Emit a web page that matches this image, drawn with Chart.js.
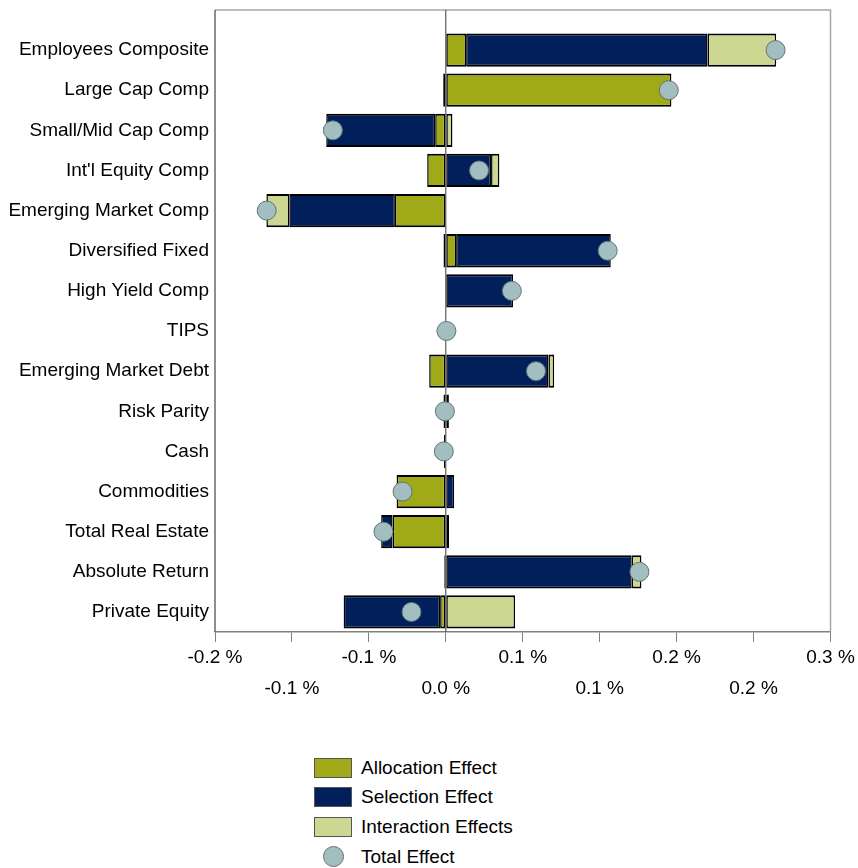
<!DOCTYPE html>
<html>
<head>
<meta charset="utf-8">
<script src="https://cdn.jsdelivr.net/npm/chart.js@4.4.1/dist/chart.umd.min.js"></script>
<style>
  body { margin: 0; background: #fff; font-family: "Liberation Sans", Arial, sans-serif; }
  #wrap { position: relative; width: 858px; height: 868px; }
  #box { position: absolute; left: 0; top: 0; width: 858px; height: 720px; }
  #legend { position: absolute; left: 314px; top: 753px; }
  .item { display: flex; align-items: center; height: 29.6px; font-size: 19px; color: #000; }
  .swatch { width: 36px; height: 18px; border: 1px solid #555; margin-right: 9px; }
  .dotwrap { width: 38px; display: flex; justify-content: center; margin-right: 9px; }
  .dot { width: 19px; height: 19px; border-radius: 50%; border: 1px solid #5f7375; }
</style>
</head>
<body>
<div id="wrap">
  <div id="box"><canvas id="attribChart"></canvas></div>
  <div id="legend"></div>
</div>
<script>
// asset classes, top to bottom
const categorias = ['Employees Composite', 'Large Cap Comp', 'Small/Mid Cap Comp', "Int'l Equity Comp",
  'Emerging Market Comp', 'Diversified Fixed', 'High Yield Comp', 'TIPS', 'Emerging Market Debt',
  'Risk Parity', 'Cash', 'Commodities', 'Total Real Estate', 'Absolute Return', 'Private Equity'];

// effects in %
const allocation = [0.0132, 0.1466, -0.0069, -0.0121, -0.0331, 0.0067, 0.0, 0.0, -0.0108, -0.0015, -0.0012, -0.0320, -0.0346, -0.0010, -0.0037];
const selection = [0.1569, -0.0017, -0.0708, 0.0294, -0.0686, 0.1005, 0.0437, 0.0, 0.0667, 0.0020, 0.0003, 0.0054, -0.0074, 0.1208, -0.0627];
const interaction = [0.0446, 0.0, 0.0043, 0.0054, -0.0149, -0.0015, 0.0, 0.0, 0.0037, 0.0, 0.0, 0.0, 0.0021, 0.0063, 0.0450];
const totalEffect = [0.2143, 0.1449, -0.0734, 0.0216, -0.1164, 0.1052, 0.0429, 0.0004, 0.0586, -0.0006, -0.0013, -0.0281, -0.0405, 0.1258, -0.0223];

// x axis ticks (labels as printed on the original, rounded to one decimal)
const tickValues = [-0.15, -0.10, -0.05, 0.0, 0.05, 0.10, 0.15, 0.20, 0.25];
const tickLabels = ['-0.2 %', '-0.1 %', '-0.1 %', '0.0 %', '0.1 %', '0.1 %', '0.2 %', '0.2 %', '0.3 %'];

const cores = {
  allocation: '#a0aa19',
  selection: '#001f5b',
  interaction: '#ccd792',
  total: '#a3bec1'
};

// frame around plot + zero line (frame reaches above the first row)
const framePlugin = {
  id: 'frame',
  beforeDatasetsDraw(chart) {
    const { ctx, chartArea, scales } = chart;
    const top = chartArea.top - 20;
    ctx.save();
    ctx.lineWidth = 1.5;
    ctx.strokeStyle = '#a6a6a6';
    ctx.beginPath();
    ctx.moveTo(chartArea.left, top);
    ctx.lineTo(chartArea.right, top);
    ctx.lineTo(chartArea.right, chartArea.bottom);
    ctx.stroke();
    ctx.strokeStyle = '#6a6a6a';
    ctx.beginPath();
    ctx.moveTo(chartArea.left, top);
    ctx.lineTo(chartArea.left, chartArea.bottom);
    ctx.stroke();
    const x0 = scales.x.getPixelForValue(0);
    ctx.lineWidth = 1;
    ctx.strokeStyle = '#3a3a3a';
    ctx.beginPath();
    ctx.moveTo(x0, top);
    ctx.lineTo(x0, chartArea.bottom);
    ctx.stroke();
    ctx.restore();
  }
};

const barBorder = { top: 2, bottom: 2, left: 1.5, right: 1.5 };

const ctx = document.getElementById('attribChart').getContext('2d');
const attribChart = new Chart(ctx, {
  type: 'bar',
  data: {
    labels: categorias,
    datasets: [
      {
        type: 'line',
        label: 'Total Effect',
        data: totalEffect,
        showLine: false,
        pointRadius: 9.5,
        pointBackgroundColor: cores.total,
        pointBorderColor: '#5f7375',
        pointBorderWidth: 1,
        stack: 'total',
        order: 0,
        clip: false
      },
      {
        label: 'Allocation Effect',
        data: allocation,
        backgroundColor: cores.allocation,
        borderColor: '#000',
        borderWidth: barBorder,
        borderSkipped: false,
        order: 1
      },
      {
        label: 'Selection Effect',
        data: selection,
        backgroundColor: cores.selection,
        borderColor: '#000',
        borderWidth: barBorder,
        borderSkipped: false,
        order: 1
      },
      {
        label: 'Interaction Effects',
        data: interaction,
        backgroundColor: cores.interaction,
        borderColor: '#000',
        borderWidth: barBorder,
        borderSkipped: false,
        order: 1
      }
    ]
  },
  options: {
    indexAxis: 'y',
    responsive: true,
    maintainAspectRatio: false,
    animation: false,
    layout: { padding: { top: 30, right: 27.5, left: 0, bottom: 0 } },
    datasets: {
      bar: { categoryPercentage: 1, barPercentage: 0.83 }
    },
    plugins: {
      legend: { display: false },
      tooltip: { enabled: false }
    },
    scales: {
      x: {
        stacked: true,
        min: -0.15,
        max: 0.25,
        afterBuildTicks: (scale) => {
          scale.ticks = tickValues.map(v => ({ value: v }));
        },
        afterFit: (scale) => { scale.height = 88; },
        grid: { drawOnChartArea: false, drawTicks: true, tickLength: 10, color: '#808080' },
        border: { display: true, color: '#808080', width: 1.5 },
        ticks: {
          padding: 0,
          maxRotation: 0,
          autoSkip: false,
          color: '#000',
          font: { family: '"Liberation Sans", Arial, sans-serif', size: 19, lineHeight: 1.63 },
          callback: function (value, index) {
            const txt = tickLabels[index];
            return index % 2 === 0 ? txt : ['', txt];
          }
        }
      },
      y: {
        stacked: true,
        afterFit: (scale) => { scale.width = 215; },
        grid: { drawOnChartArea: false, drawTicks: false },
        border: { display: false },
        ticks: {
          padding: 6,
          color: '#000',
          font: { family: '"Liberation Sans", Arial, sans-serif', size: 19 }
        }
      }
    }
  },
  plugins: [framePlugin]
});

// legend in html, same order as the original
const legenda = document.getElementById('legend');
[1, 2, 3, 0].forEach(i => {
  const ds = attribChart.data.datasets[i];
  const item = document.createElement('div');
  item.className = 'item';
  if (ds.type === 'line') {
    item.innerHTML = '<span class="dotwrap"><span class="dot" style="background:' + ds.pointBackgroundColor + '"></span></span>';
  } else {
    item.innerHTML = '<span class="swatch" style="background:' + ds.backgroundColor + '"></span>';
  }
  const lbl = document.createElement('span');
  lbl.textContent = ds.label;
  item.appendChild(lbl);
  legenda.appendChild(item);
});
</script>
</body>
</html>
